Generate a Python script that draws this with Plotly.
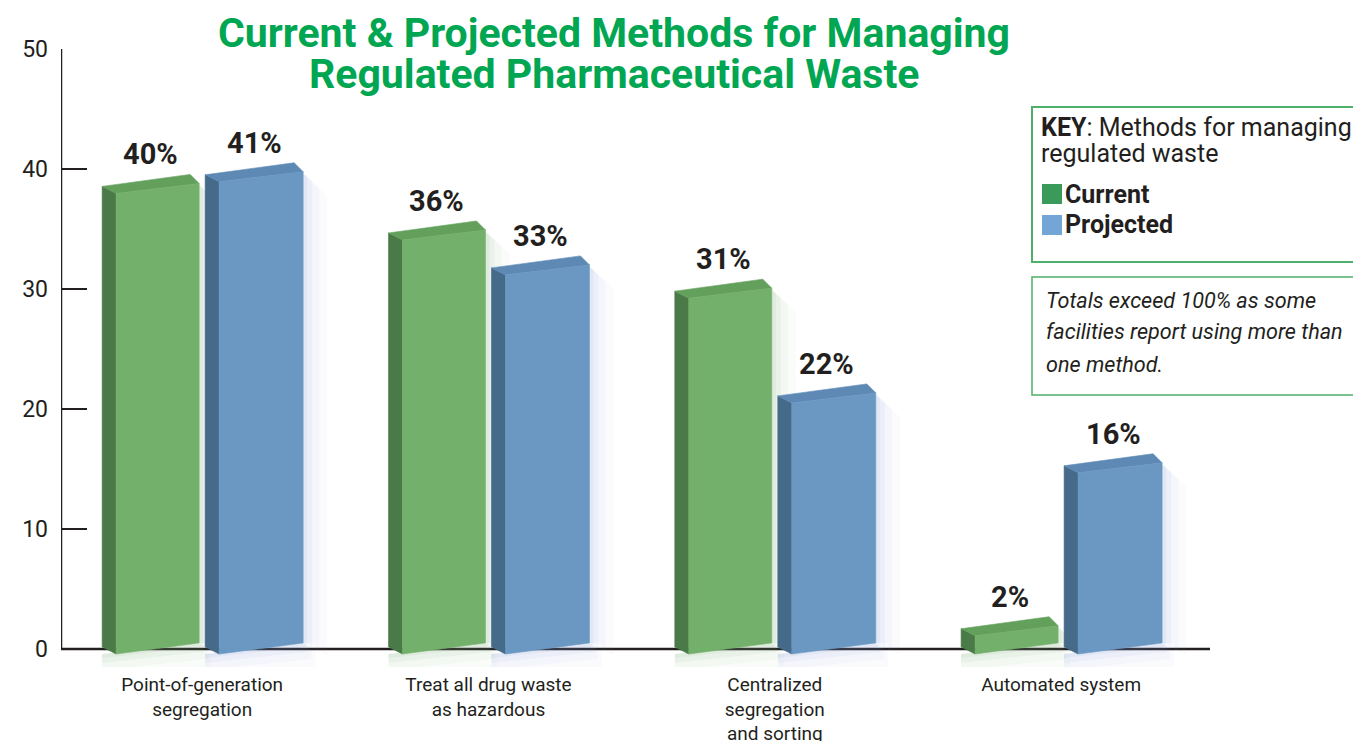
import plotly.graph_objects as go

# ---------------- data ----------------
categories = ["Point-of-generation<br>segregation",
              "Treat all drug waste<br>as hazardous",
              "Centralized<br>segregation<br>and sorting",
              "Automated system"]
current = [40, 36, 31, 2]
projected = [41, 33, 22, 16]
y_ticks = [0, 10, 20, 30, 40, 50]
series_names = ["Current", "Projected"]

# ---------------- layout geometry ----------------
OFF = 8                      # the page body margin offsets the figure
W, H = 1361 - OFF, 741 - OFF
PLOT_L, PLOT_R, PLOT_T, PLOT_B = 61, 1210, 49, 667   # target page pixels
ML, MT = PLOT_L - OFF, PLOT_T - OFF
MR = W - (PLOT_R - OFF)
MB = H - (PLOT_B - OFF)
PW = PLOT_R - PLOT_L
PH = PLOT_B - PLOT_T
XR = [-0.493, 3.52]
YR = [-1.5, 50]
XU = PW / (XR[1] - XR[0])
YU = PH / (YR[1] - YR[0])


def dx(px):
    return px / XU


def dy(px):
    return px / YU


def paper_x(px):
    return (px - PLOT_L) / PW


def paper_y(py):
    return (PLOT_B - py) / PH


TEXT = "#231f20"
FONT = "Roboto"
GREEN_T = "#00a651"

styles = {
    "Current": dict(front="#73b06b", side="#4a7a47", top="#62a05c",
                    glow="rgba(120,170,110,{a})", key="#3a9a5a",
                    off=(-86, -3)),
    "Projected": dict(front="#6a98c3", side="#456a8a", top="#5d89b4",
                      glow="rgba(130,150,215,{a})", key="#73a6d6",
                      off=(17, 101)),
}


def box(c, v, off):
    xl = c + dx(off[0])
    xr = c + dx(off[1])
    tr = 0.97 * v
    tl = tr - dy(10)
    br = dy(6)
    bl = -dy(5)
    front = [(xl, bl), (xr, br), (xr, tr), (xl, tl)]
    side = [(xl - dx(14), bl + dy(7)), (xl, bl), (xl, tl), (xl - dx(14), tl + dy(7))]
    top = [(xl, tl), (xr, tr), (xr - dx(9), tr + dy(9)), (xl - dx(14), tl + dy(7))]
    return dict(xl=xl, xr=xr, tr=tr, tl=tl, br=br, bl=bl, front=front, side=side, top=top)


def polys_to_xy(polys):
    xs, ys = [], []
    for p in polys:
        for (x, y) in p + [p[0]]:
            xs.append(x)
            ys.append(y)
        xs.append(None)
        ys.append(None)
    return xs, ys


fig = go.Figure()
annotations = []

cat_pos = list(range(len(categories)))
for name, vals in zip(series_names, [current, projected]):
    st = styles[name]
    boxes = [box(c, v, st["off"]) for c, v in zip(cat_pos, vals)]
    # soft glow to the right and beneath
    for w, a in [(24, 0.035), (16, 0.05), (9, 0.07), (4, 0.09)]:
        glow = []
        for b in boxes:
            glow.append([(b["xr"], b["br"]), (b["xr"] + dx(w), b["br"] - dy(w * 0.5)),
                         (b["xr"] + dx(w), b["tr"] - dy(w)), (b["xr"], b["tr"] - dy(2))])
            glow.append([(b["xl"] - dx(14), b["bl"]), (b["xr"] + dx(w * 0.5), b["br"]),
                         (b["xr"] + dx(w * 0.5), b["br"] - dy(w)), (b["xl"] - dx(14), b["bl"] - dy(w))])
        gx, gy = polys_to_xy(glow)
        fig.add_trace(go.Scatter(x=gx, y=gy, mode="lines", fill="toself",
                                 fillcolor=st["glow"].format(a=a), line=dict(width=0),
                                 hoverinfo="skip", showlegend=False))
    for face in ["side", "top", "front"]:
        fx, fy = polys_to_xy([b[face] for b in boxes])
        fig.add_trace(go.Scatter(x=fx, y=fy, mode="lines", fill="toself",
                                 fillcolor=st[face], line=dict(width=0.6, color=st[face]),
                                 hoverinfo="skip", showlegend=False, name=name))
    for b, v in zip(boxes, vals):
        annotations.append(dict(
            x=(b["xl"] - dx(14) + b["xr"]) / 2, y=b["tr"] + dy(9),
            xref="x", yref="y", text=f"{v}%", showarrow=False,
            xanchor="center", yanchor="bottom", yshift=1,
            font=dict(family=FONT, size=29, color=TEXT, weight="bold")))

# axes lines (drawn from axis ranges)
shapes = [
    dict(type="line", xref="x", yref="y", x0=XR[0], x1=XR[0], y0=0, y1=y_ticks[-1],
         line=dict(color=TEXT, width=2.5), layer="below"),
    dict(type="line", xref="x", yref="y", x0=XR[0], x1=XR[1], y0=0, y1=0,
         line=dict(color=TEXT, width=2.5), layer="below"),
]

# title
annotations.append(dict(x=paper_x(614), y=paper_y(33), xref="paper", yref="paper",
                        text="Current & Projected Methods for Managing", showarrow=False,
                        xanchor="center", yanchor="middle",
                        font=dict(family=FONT, size=41, color=GREEN_T, weight="bold")))
annotations.append(dict(x=paper_x(614), y=paper_y(74), xref="paper", yref="paper",
                        text="Regulated Pharmaceutical Waste", showarrow=False,
                        xanchor="center", yanchor="middle",
                        font=dict(family=FONT, size=41, color=GREEN_T, weight="bold")))

# key box
shapes.append(dict(type="rect", xref="paper", yref="paper",
                   x0=paper_x(1032), x1=paper_x(1366), y0=paper_y(262), y1=paper_y(107),
                   line=dict(color="#4cb06a", width=2), fillcolor="white", layer="above"))
annotations.append(dict(x=paper_x(1039), y=paper_y(127), xref="paper", yref="paper",
                        text="<b>KEY</b>: Methods for managing", showarrow=False,
                        xanchor="left", yanchor="middle",
                        font=dict(family=FONT, size=25, color=TEXT)))
annotations.append(dict(x=paper_x(1039), y=paper_y(153), xref="paper", yref="paper",
                        text="regulated waste", showarrow=False,
                        xanchor="left", yanchor="middle",
                        font=dict(family=FONT, size=25, color=TEXT)))
for i, name in enumerate(series_names):
    cy = 194 + 31 * i
    shapes.append(dict(type="rect", xref="paper", yref="paper",
                       x0=paper_x(1042), x1=paper_x(1062), y0=paper_y(cy + 10), y1=paper_y(cy - 10),
                       line=dict(width=0), fillcolor=styles[name]["key"], layer="above"))
    annotations.append(dict(x=paper_x(1063), y=paper_y(cy), xref="paper", yref="paper",
                            text=f"<b>{name}</b>", showarrow=False,
                            xanchor="left", yanchor="middle",
                            font=dict(family=FONT, size=25, color=TEXT)))

# note box
shapes.append(dict(type="rect", xref="paper", yref="paper",
                   x0=paper_x(1032), x1=paper_x(1366), y0=paper_y(395), y1=paper_y(277),
                   line=dict(color="#4cb06a", width=1.5), fillcolor="white", layer="above"))
note_lines = ["Totals exceed 100% as some", "facilities report using more than", "one method."]
for i, line in enumerate(note_lines):
    annotations.append(dict(x=paper_x(1044), y=paper_y(300 + 32 * i), xref="paper", yref="paper",
                            text=line, showarrow=False, xanchor="left", yanchor="middle",
                            font=dict(family=FONT, size=21.6, color=TEXT, style="italic")))

fig.update_layout(
    width=W, height=H,
    margin=dict(l=ML, r=MR, t=MT, b=MB, pad=0, autoexpand=False),
    paper_bgcolor="white", plot_bgcolor="white",
    showlegend=False,
    shapes=shapes,
    annotations=annotations,
    xaxis=dict(range=XR, tickmode="array", tickvals=cat_pos, ticktext=categories,
               showgrid=False, zeroline=False, showline=False, ticks="",
               automargin=False, ticklabelstandoff=4,
               tickfont=dict(family=FONT, size=19, color=TEXT), fixedrange=True),
    yaxis=dict(range=YR, tickmode="array", tickvals=y_ticks,
               ticktext=[str(t) for t in y_ticks],
               showgrid=False, zeroline=False, showline=False, automargin=False,
               ticks="inside", ticklen=26, tickwidth=2, tickcolor=TEXT,
               ticklabelstandoff=12,
               tickfont=dict(family=FONT, size=23, color=TEXT), fixedrange=True),
)

fig.write_html("out.html")
